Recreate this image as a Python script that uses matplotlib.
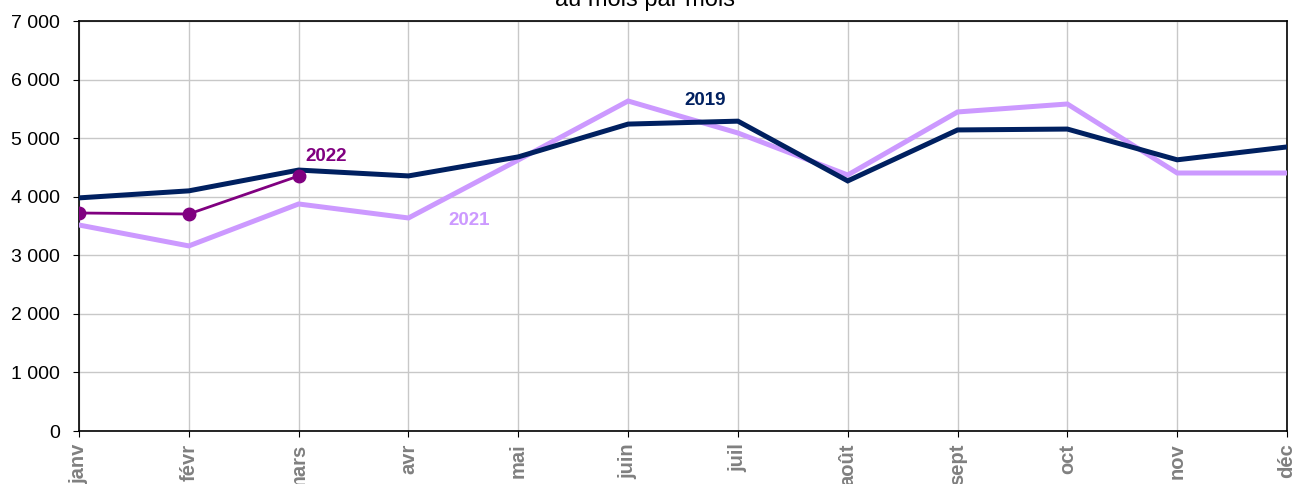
import matplotlib
matplotlib.use("Agg")
import matplotlib.pyplot as plt
from matplotlib.ticker import FuncFormatter

months = ["janv", "févr", "mars", "avr", "mai", "juin", "juil", "août", "sept", "oct", "nov", "déc"]
v2019 = [3980, 4100, 4455, 4355, 4680, 5240, 5290, 4270, 5140, 5155, 4630, 4850]
v2021 = [3517, 3160, 3876, 3637, 4627, 5634, 5088, 4371, 5447, 5583, 4405, 4405]
v2022 = [3722, 3705, 4354]
title = "au mois par mois"

plt.rcParams['font.family'] = ['Liberation Sans', 'DejaVu Sans']

fig = plt.figure(figsize=(12.98, 4.84), dpi=100)
ax = fig.add_axes([79/1298, 1-431/484, (1287-79)/1298, 410/484])

x = list(range(len(months)))
ax.plot(x, v2021, color="#CC99FF", lw=3.6, solid_joinstyle="miter", zorder=3)
ax.plot(x, v2019, color="#002060", lw=3.6, solid_joinstyle="miter", zorder=4)
ax.plot(x[:len(v2022)], v2022, color="#800080", lw=2, marker="o", ms=9, zorder=5)

ax.text(5.7, 5640, "2019", color="#002060", fontsize=13.5, fontweight="bold", ha="center", va="center")
ax.text(3.55, 3600, "2021", color="#CC99FF", fontsize=13.5, fontweight="bold", ha="center", va="center")
ax.text(2.25, 4680, "2022", color="#800080", fontsize=13.5, fontweight="bold", ha="center", va="center")

ax.set_xlim(0, 11)
ax.set_ylim(0, 7000)
ax.set_yticks(range(0, 7001, 1000))
ax.yaxis.set_major_formatter(FuncFormatter(lambda v, p: f"{int(v):,}".replace(",", " ")))
ax.set_xticks(x)
ax.set_xticklabels(months, rotation=90, color="#808080", fontweight="bold", fontsize=14.5)
ax.tick_params(axis="y", labelsize=14, length=4.5, color="black", pad=9)
ax.tick_params(axis="x", length=4, color="black", pad=5)
ax.grid(True, color="#C8C8C8", lw=1)
ax.set_axisbelow(True)
for s in ax.spines.values():
    s.set_color("black")
    s.set_linewidth(1.2)

fig.text(645/1298, 1.0, title, ha="center", va="center", fontsize=17)

fig.savefig("out.png", dpi=100)
